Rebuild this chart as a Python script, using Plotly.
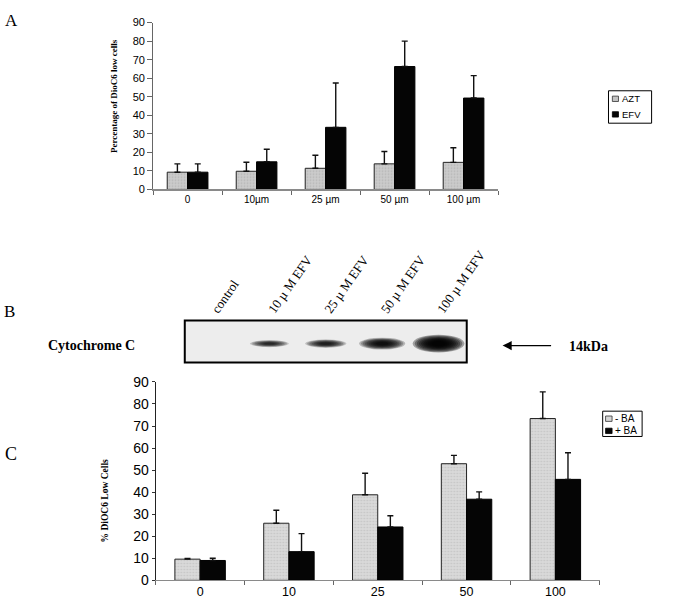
import plotly.graph_objects as go

W, H = 676, 611


def px(x):
    return x / W


def py(y):
    return 1 - y / H


# ---------------- data ----------------
# Panel A
cats_a = ["0", "10µm", "25 µm", "50 µm", "100 µm"]
azt_mean = [9.3, 9.8, 11.4, 13.8, 14.6]
azt_err = [4.5, 4.9, 7.0, 6.7, 7.9]
efv_mean = [9.3, 14.9, 33.5, 66.3, 49.3]
efv_err = [4.5, 6.8, 23.9, 13.7, 12.1]

# Panel B (western blot, relative band signal)
blot_lanes = ["control", "10 µ M EFV", "25 µ M EFV", "50 µ M EFV", "100 µ M EFV"]
band_signal = [0.0, 0.45, 0.55, 0.75, 1.0]

# Panel C
cats_c = ["0", "10", "25", "50", "100"]
minus_ba_mean = [9.6, 25.9, 38.8, 52.9, 73.4]
minus_ba_err = [0.3, 5.9, 9.8, 3.8, 12.1]
plus_ba_mean = [9.0, 13.0, 24.2, 36.8, 45.8]
plus_ba_err = [1.0, 8.2, 5.1, 3.3, 12.1]

SANS = "Liberation Sans, Arial, sans-serif"
SERIF = "Liberation Serif, Times New Roman, serif"

gray_pattern = dict(shape=".", fgcolor="#9c9c9c", bgcolor="#cbcbcb", size=3, solidity=0.25)
gray_pattern_c = dict(shape=".", fgcolor="#b0b0b0", bgcolor="#d9d9d9", size=3, solidity=0.25)


def err(vals):
    return dict(type="data", symmetric=False, array=vals, arrayminus=[0] * len(vals),
                color="#111111", thickness=1.4, width=3)


fig = go.Figure()

wa = 0.295
fig.add_trace(go.Bar(name="AZT", x=cats_a, y=azt_mean, xaxis="x", yaxis="y",
                     offset=-wa, width=wa,
                     marker=dict(color="#c4c4c4", pattern=gray_pattern,
                                 line=dict(color="#222222", width=1)),
                     error_y=err(azt_err), showlegend=False))
fig.add_trace(go.Bar(name="EFV", x=cats_a, y=efv_mean, xaxis="x", yaxis="y",
                     offset=0, width=wa,
                     marker=dict(color="#050505", line=dict(color="#000000", width=1)),
                     error_y=err(efv_err), showlegend=False))

wc = 0.284
fig.add_trace(go.Bar(name="- BA", x=cats_c, y=minus_ba_mean, xaxis="x3", yaxis="y3",
                     offset=-wc, width=wc,
                     marker=dict(color="#d6d6d6", pattern=gray_pattern_c,
                                 line=dict(color="#222222", width=1)),
                     error_y=err(minus_ba_err), showlegend=False))
fig.add_trace(go.Bar(name="+ BA", x=cats_c, y=plus_ba_mean, xaxis="x3", yaxis="y3",
                     offset=0, width=wc,
                     marker=dict(color="#050505", line=dict(color="#000000", width=1)),
                     error_y=err(plus_ba_err), showlegend=False))

# invisible trace to create blot subplot
fig.add_trace(go.Scatter(x=list(range(len(blot_lanes))), y=[0.45] * len(blot_lanes),
                         xaxis="x2", yaxis="y2", mode="markers",
                         marker=dict(size=1, opacity=0), hoverinfo="skip", showlegend=False))

shapes = []
# blot background
shapes.append(dict(type="rect", xref="x2 domain", yref="y2 domain", x0=0, x1=1, y0=0, y1=1,
                   fillcolor="#ededed", line=dict(color="#000000", width=2), layer="below"))
# bands: stacked translucent ellipses give a soft blurred band
n_layers = 10
for i, d in enumerate(band_signal):
    if d <= 0:
        continue
    hw = 0.22 + 0.18 * d
    hh = 0.045 + 0.14 * d * d
    cy = 0.45
    op = 0.12 + 0.2 * d * d
    for k in range(n_layers):
        s = 1.15 - k * (0.85 / (n_layers - 1))
        shapes.append(dict(type="circle", xref="x2", yref="y2",
                           x0=i - hw * s, x1=i + hw * s,
                           y0=cy - hh * s, y1=cy + hh * s,
                           fillcolor="#000000", opacity=op, line=dict(width=0)))

# legend A (manual)
shapes.append(dict(type="rect", xref="paper", yref="paper", x0=px(628), x1=px(672.5),
                   y0=py(118.3), y1=py(85), line=dict(color="#000", width=1), fillcolor="white"))
shapes.append(dict(type="rect", xref="paper", yref="paper", x0=px(632), x1=px(638.3),
                   y0=py(96), y1=py(90.5), line=dict(color="#333", width=0.8), fillcolor="#c4c4c4"))
shapes.append(dict(type="rect", xref="paper", yref="paper", x0=px(632), x1=px(638.3),
                   y0=py(112), y1=py(106.5), line=dict(color="#000", width=0.8), fillcolor="#050505"))
# legend C (manual)
shapes.append(dict(type="rect", xref="paper", yref="paper", x0=px(622), x1=px(662.7),
                   y0=py(440), y1=py(414), line=dict(color="#000", width=1), fillcolor="white"))
shapes.append(dict(type="rect", xref="paper", yref="paper", x0=px(625), x1=px(631.7),
                   y0=py(424.5), y1=py(419), line=dict(color="#333", width=0.8), fillcolor="#d6d6d6"))
shapes.append(dict(type="rect", xref="paper", yref="paper", x0=px(625), x1=px(631.7),
                   y0=py(437), y1=py(431.5), line=dict(color="#000", width=0.8), fillcolor="#050505"))


def txt(x, y, s, size, family=SERIF, bold=False, angle=0, xanchor="center"):
    return dict(x=px(x), y=py(y), xref="paper", yref="paper", text=f"<b>{s}</b>" if bold else s,
                showarrow=False, textangle=angle, xanchor=xanchor, yanchor="middle",
                font=dict(family=family, size=size, color="#000"))


annotations = [
    txt(11.5, 12.5, "A", 17),
    txt(10, 311.5, "B", 17),
    txt(11, 458, "C", 18),
    txt(117, 90, "Percentage of DioC6 low cells", 9, bold=True, angle=-90),
    txt(108, 506, "% DiOC6 Low Cells", 9.5, bold=True, angle=-90),
    txt(94, 347, "Cytochrome C", 14, bold=True),
    txt(607, 348, "14kDa", 14, bold=True),
    txt(640, 93, "AZT", 9.5, family=SANS, xanchor="left"),
    txt(640, 109, "EFV", 9.5, family=SANS, xanchor="left"),
    txt(633, 421.5, "- BA", 10, family=SANS, xanchor="left"),
    txt(633, 434, "+ BA", 10, family=SANS, xanchor="left"),
    dict(x=px(518.7), y=py(346.7), xref="paper", yref="paper", text="", showarrow=True,
         ax=50, ay=0, arrowhead=2, arrowsize=1.4, arrowwidth=1.3, arrowcolor="#000", standoff=0),
]

fig.update_layout(
    width=W, height=H,
    margin=dict(l=0, r=0, t=0, b=0),
    paper_bgcolor="white", plot_bgcolor="rgba(0,0,0,0)",
    showlegend=False,
    shapes=shapes, annotations=annotations,
    xaxis=dict(domain=[px(158), px(514)], anchor="y", type="category", range=[-0.5, 4.5],
               showline=True, linecolor="#8a8a8a", linewidth=1.5, ticks="outside",
               tickson="boundaries", ticklen=4, tickcolor="#666", showgrid=False, zeroline=False,
               tickfont=dict(family=SANS, size=10, color="#000")),
    yaxis=dict(domain=[py(186.3), py(15)], anchor="x", range=[0, 90], dtick=10,
               showline=True, linecolor="#666", linewidth=1, ticks="outside", ticklen=5,
               tickcolor="#666", showgrid=False, zeroline=False,
               tickfont=dict(family=SANS, size=11, color="#000")),
    xaxis2=dict(domain=[px(190.7), px(481.7)], anchor="y2", side="top", range=[-0.5, 4.5],
                tickmode="array", tickvals=list(range(len(blot_lanes))), ticktext=blot_lanes,
                tickangle=-55, ticks="", showline=False, showgrid=False, zeroline=False,
                tickfont=dict(family=SERIF, size=13, color="#000")),
    yaxis2=dict(domain=[py(364), py(321)], anchor="x2", range=[0, 1], visible=False),
    xaxis3=dict(domain=[px(160.7), px(619)], anchor="y3", type="category", range=[-0.5, 4.5],
                showline=True, linecolor="#8a8a8a", linewidth=1.2, ticks="outside",
                tickson="boundaries", ticklen=4, tickcolor="#666", showgrid=False, zeroline=False,
                tickfont=dict(family=SANS, size=12.5, color="#000")),
    yaxis3=dict(domain=[py(587.7), py(384)], anchor="x3", range=[0, 90], dtick=10,
                showline=True, linecolor="#222", linewidth=1, ticks="outside", ticklen=3,
                tickcolor="#333", showgrid=False, zeroline=False,
                tickfont=dict(family=SANS, size=14, color="#000")),
)

fig.write_html("out.html",
               config={"displayModeBar": False},
               post_script="document.body.style.margin='0px';"
                           "document.documentElement.style.overflow='hidden';")
